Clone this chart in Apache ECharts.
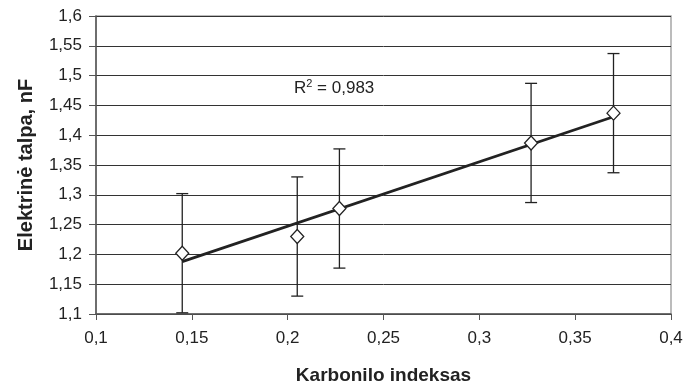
<!DOCTYPE html>
<html>
<head>
<meta charset="utf-8">
<script src="https://cdn.jsdelivr.net/npm/echarts@6/dist/echarts.min.js"></script>
<style>html,body{margin:0;padding:0;background:#fff}#c{width:686px;height:390px}</style>
</head>
<body>
<div id="c"></div>
<script>
const xValues = [0.145, 0.205, 0.227, 0.327, 0.370];
const yValues = [1.202, 1.230, 1.277, 1.387, 1.437];
const yErrors = [0.1, 0.1, 0.1, 0.1, 0.1];
const trendX = [0.145, 0.370];
const trendY = [1.188, 1.431];
const xTitle = 'Karbonilo indeksas';
const yTitle = 'Elektrinė talpa, nF';
const r2Text = '0,983';

const FF = 'Liberation Sans, Arial, sans-serif';
const fmt = v => String(+(+v).toFixed(2)).replace('.', ',');
const pts = xValues.map((x, i) => [x, yValues[i]]);
const errData = xValues.map((x, i) => [x, yValues[i] - yErrors[i], yValues[i] + yErrors[i]]);
const trend = trendX.map((x, i) => [x, trendY[i]]);

const chart = echarts.init(document.getElementById('c'));
chart.setOption({
  animation: false,
  backgroundColor: '#fff',
  textStyle: { fontFamily: FF },
  grid: { left: 96, right: 15, top: 16, bottom: 74, show: true, borderColor: '#a6a6a6', borderWidth: 1.5 },
  xAxis: {
    type: 'value', min: 0.1, max: 0.4, interval: 0.05,
    name: xTitle, nameLocation: 'middle', nameGap: 52,
    nameTextStyle: { fontSize: 19, fontWeight: 'bold', color: '#222', fontFamily: FF },
    axisLine: { lineStyle: { color: '#555', width: 1.5 } },
    axisTick: { show: true, length: 6, lineStyle: { color: '#555' } },
    axisLabel: { formatter: fmt, fontSize: 17, color: '#222', margin: 16, fontFamily: FF },
    splitLine: { show: false }
  },
  yAxis: {
    type: 'value', min: 1.1, max: 1.6, interval: 0.05,
    name: yTitle, nameLocation: 'middle', nameGap: 60,
    nameTextStyle: { fontSize: 20, fontWeight: 'bold', color: '#222', fontFamily: FF },
    axisLine: { show: true, lineStyle: { color: '#555', width: 1.5 } },
    axisTick: { show: true, length: 7, lineStyle: { color: '#555' } },
    axisLabel: { formatter: fmt, fontSize: 17, color: '#222', margin: 14, fontFamily: FF },
    splitLine: { show: true, lineStyle: { color: '#333', width: 1 } }
  },
  graphic: [{
    type: 'text', left: 294, top: 78, z: 100,
    style: {
      text: '{r|R}{s|2}{r| = ' + r2Text + '}',
      rich: {
        r: { fontSize: 17, fill: '#222', fontFamily: FF, verticalAlign: 'bottom' },
        s: { fontSize: 11, fill: '#222', fontFamily: FF, verticalAlign: 'top', padding: [0, 0, 8, 0] }
      }
    }
  }],
  series: [
    {
      type: 'custom',
      data: errData,
      encode: { x: 0, y: [1, 2] },
      z: 3,
      renderItem: function (params, api) {
        const x = api.value(0);
        const lo = api.coord([x, api.value(1)]);
        const hi = api.coord([x, api.value(2)]);
        const w = 6;
        const st = { stroke: '#222', lineWidth: 1.3 };
        return {
          type: 'group',
          children: [
            { type: 'line', shape: { x1: lo[0], y1: lo[1], x2: hi[0], y2: hi[1] }, style: st },
            { type: 'line', shape: { x1: lo[0] - w, y1: lo[1], x2: lo[0] + w, y2: lo[1] }, style: st },
            { type: 'line', shape: { x1: hi[0] - w, y1: hi[1], x2: hi[0] + w, y2: hi[1] }, style: st }
          ]
        };
      }
    },
    {
      type: 'line',
      data: trend,
      symbol: 'none',
      z: 4,
      lineStyle: { color: '#222', width: 2.8 }
    },
    {
      type: 'scatter',
      data: pts,
      symbol: 'diamond',
      symbolSize: [13, 14],
      z: 5,
      itemStyle: { color: '#fff', borderColor: '#222', borderWidth: 1.3, opacity: 1 }
    }
  ]
});
</script>
</body>
</html>
